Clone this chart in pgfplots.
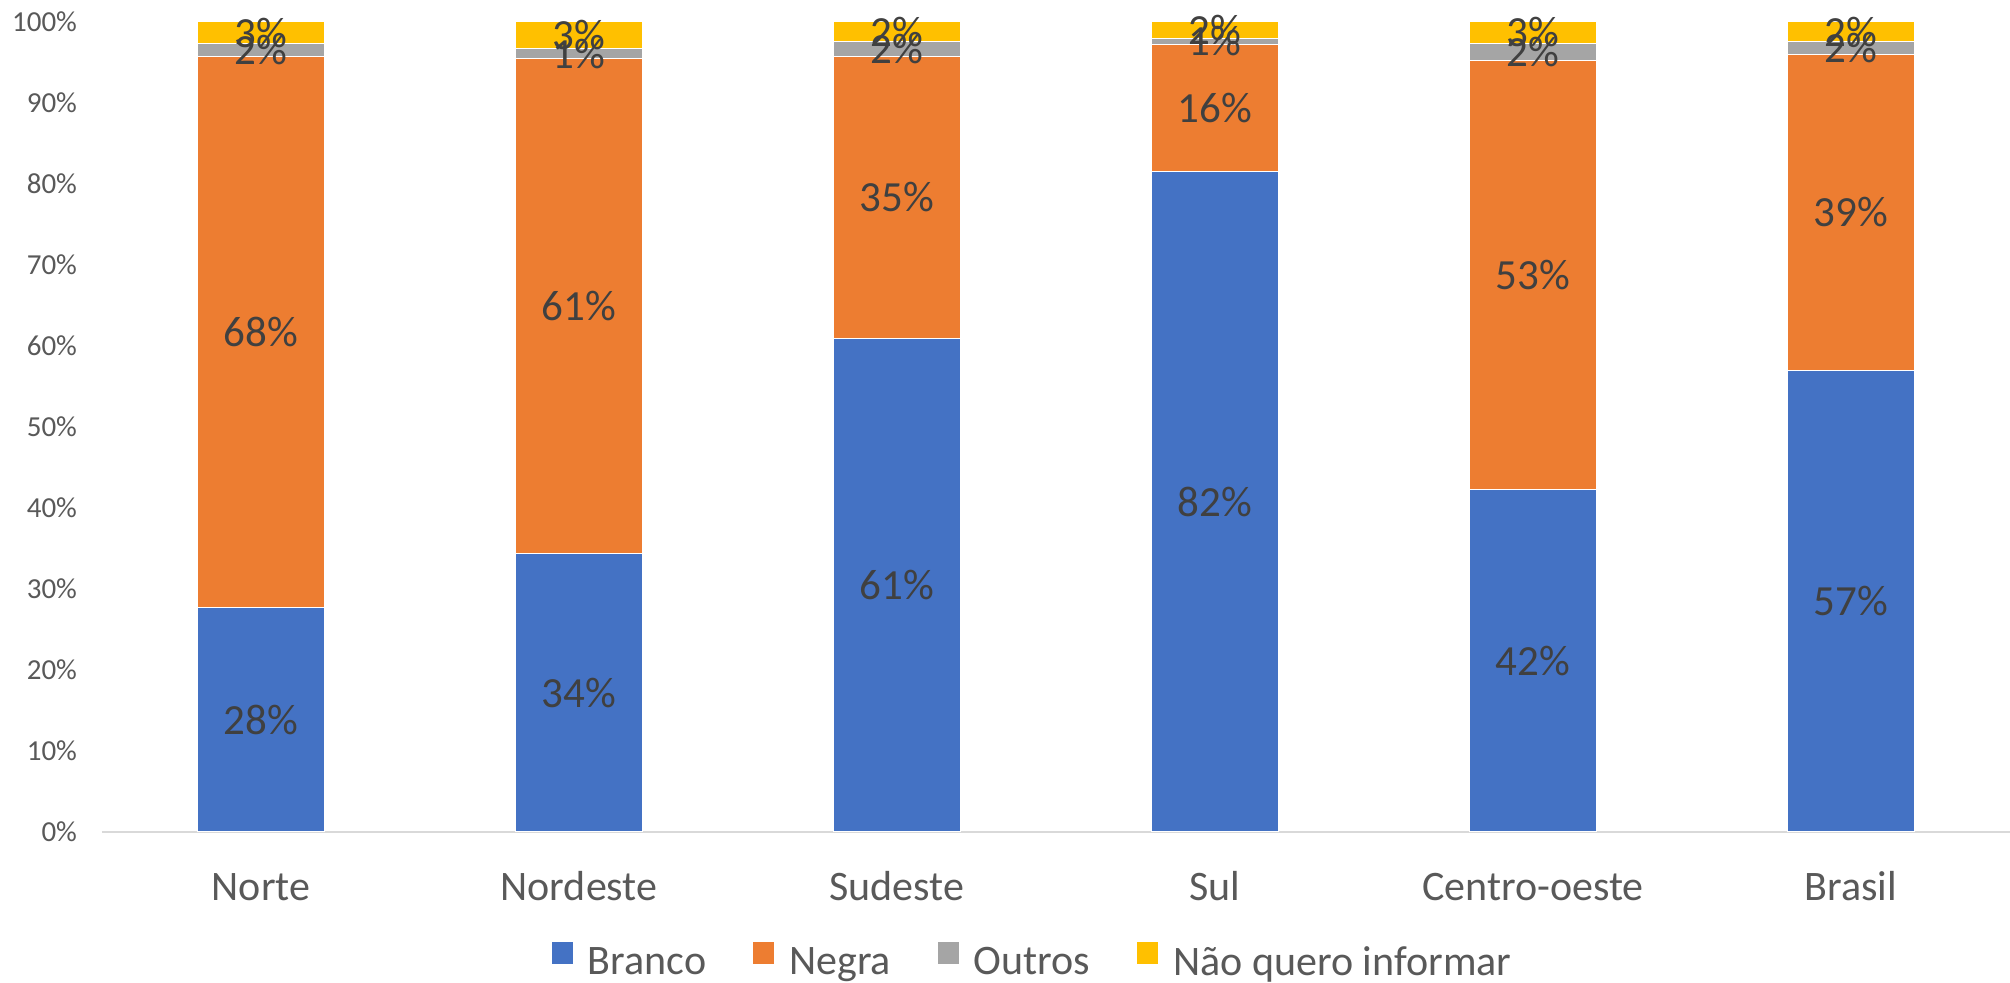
\documentclass[border=0pt]{standalone}
\usepackage{pgfplots}
\usepackage{pgfplotstable}
\pgfplotsset{compat=1.18}
\usepackage{fontspec}
\setmainfont{Carlito}

\definecolor{cBranco}{HTML}{4472C4}
\definecolor{cNegra}{HTML}{ED7D31}
\definecolor{cOutros}{HTML}{A5A5A5}
\definecolor{cNao}{HTML}{FFC000}
\definecolor{ctick}{HTML}{595959}
\definecolor{clabel}{HTML}{404040}
\definecolor{caxis}{HTML}{D9D9D9}

% share of each group per region, in percent
\pgfplotstableread{
x  branco negra outros nao
0  27.7   68.0  1.6    2.7
1  34.4   61.1  1.2    3.3
2  60.9   34.9  1.8    2.4
3  81.6   15.6  0.8    2.0
4  42.3   52.9  2.2    2.6
5  57.0   39.0  1.6    2.4
}\regioes

\pgfplotsset{
  frame/.style={
    scale only axis, width=954pt, height=405pt,
    xmin=-0.5, xmax=5.5, ymin=0, ymax=100,
    at={(51pt,75.5pt)}, anchor=south west,
  },
}

\begin{document}
\begin{tikzpicture}
\useasboundingbox (0,0) rectangle (1005pt,491.5pt);
\begin{axis}[
    frame,
    ybar stacked,
    bar width=0.4,
    axis x line*=bottom,
    axis y line*=left,
    x axis line style={-, draw=caxis, line width=1pt},
    y axis line style={draw=none},
    major tick length=0pt,
    xtick=data,
    xticklabels={Norte, Nordeste, Sudeste, Sul, Centro-oeste, Brasil},
    xticklabel style={anchor=base, yshift=-34.5pt, text=ctick,
        font=\fontsize{21}{25}\selectfont},
    ytick={0,10,...,100},
    yticklabel={\pgfmathprintnumber{\tick}\%},
    yticklabel style={text=ctick, xshift=-9pt,
        font=\fontsize{14.5}{17}\selectfont},
    /pgf/number format/assume math mode=true,
    legend style={at={(0.488,0)}, anchor=center, yshift=-65pt,
        draw=none, legend columns=-1, text=ctick,
        font=\fontsize{21}{25}\selectfont,
        /tikz/every odd column/.append style={column sep=5pt},
        /tikz/every even column/.append style={column sep=21pt}},
    legend image code/.code={\fill[#1] (0pt,-1pt) rectangle (11pt,10.5pt);},
]
\addplot[fill=cBranco, draw=white, line width=0.5pt] table[x=x, y=branco] {\regioes};
\addplot[fill=cNegra, draw=white, line width=0.5pt] table[x=x, y=negra] {\regioes};
\addplot[fill=cOutros, draw=white, line width=0.5pt] table[x=x, y=outros] {\regioes};
\addplot[fill=cNao, draw=white, line width=0.5pt] table[x=x, y=nao] {\regioes};
\legend{Branco, Negra, Outros, Não quero informar}
\end{axis}

% data labels, centred in each segment
\begin{axis}[
    frame,
    hide axis,
    nodes near coords={\pgfmathprintnumber[fixed,precision=0]{\pgfplotspointmeta}\%},
    nodes near coords style={anchor=center, text=clabel,
        font=\fontsize{21.5}{25}\selectfont},
    /pgf/number format/assume math mode=true,
]
\addplot[draw=none, mark=none, point meta=\thisrow{branco}]
    table[x=x, y expr=\thisrow{branco}/2] {\regioes};
\addplot[draw=none, mark=none, point meta=\thisrow{negra}]
    table[x=x, y expr=\thisrow{branco}+\thisrow{negra}/2] {\regioes};
\addplot[draw=none, mark=none, point meta=\thisrow{outros}]
    table[x=x, y expr=\thisrow{branco}+\thisrow{negra}+\thisrow{outros}/2] {\regioes};
\addplot[draw=none, mark=none, point meta=\thisrow{nao}]
    table[x=x, y expr=\thisrow{branco}+\thisrow{negra}+\thisrow{outros}+\thisrow{nao}/2] {\regioes};
\end{axis}
\end{tikzpicture}
\end{document}
